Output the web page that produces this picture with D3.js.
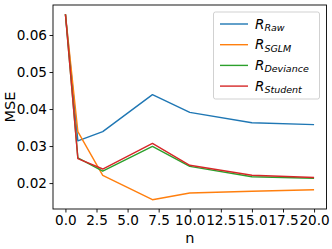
<!DOCTYPE html>
<html>
<head>
<meta charset="utf-8">
<script src="https://cdn.jsdelivr.net/npm/d3@7"></script>
<style>
  body { margin: 0; background: #fff; }
  svg { display: block; font-family: "DejaVu Sans", sans-serif; }
</style>
</head>
<body>
<div id="chart"></div>
<script>
// data
var nValues = [0, 1, 3, 7, 10, 15, 20];
var rawMse = [0.0656, 0.0314, 0.0339, 0.0439, 0.0391, 0.0363, 0.0358];
var sglmMse = [0.0656, 0.0339, 0.0221, 0.0155, 0.0173, 0.0178, 0.0182];
var devianceMse = [0.0656, 0.0268, 0.0232, 0.0299, 0.0245, 0.0217, 0.0213];
var studentMse = [0.0656, 0.0266, 0.0238, 0.0307, 0.0248, 0.0221, 0.0215];
var seriesNames = ["Raw", "SGLM", "Deviance", "Student"];
var xTicks = [0, 2.5, 5, 7.5, 10, 12.5, 15, 17.5, 20];
var yTicks = [0.02, 0.03, 0.04, 0.05, 0.06];

var colors = ["#1f77b4", "#ff7f0e", "#2ca02c", "#d62728"];
var allSeries = [rawMse, sglmMse, devianceMse, studentMse];

var width = 332, height = 249;
var plotLeft = 53, plotRight = 326.5, plotTop = 5, plotBottom = 209;

var svg = d3.select("#chart").append("svg")
    .attr("width", width)
    .attr("height", height);

// matplotlib style 5% margins
var xExt = d3.extent(nValues);
var xPad = (xExt[1] - xExt[0]) * 0.05;
var yExt = d3.extent(d3.merge(allSeries));
var yPad = (yExt[1] - yExt[0]) * 0.05;

var x = d3.scaleLinear().domain([xExt[0] - xPad, xExt[1] + xPad]).range([plotLeft, plotRight]);
var y = d3.scaleLinear().domain([yExt[0] - yPad, yExt[1] + yPad]).range([plotBottom, plotTop]);

var line = d3.line()
    .x(function(d, i) { return x(nValues[i]); })
    .y(function(d) { return y(d); });

svg.append("g").selectAll("path")
    .data(allSeries)
    .enter().append("path")
    .attr("d", line)
    .attr("fill", "none")
    .attr("stroke", function(d, i) { return colors[i]; })
    .attr("stroke-width", 1.4)
    .attr("stroke-linejoin", "round");

// axes
var xAxis = d3.axisBottom(x).tickValues(xTicks).tickFormat(d3.format(".1f")).tickSize(3.5).tickPadding(2.5);
var yAxis = d3.axisLeft(y).tickValues(yTicks).tickFormat(d3.format(".2f")).tickSize(3.5).tickPadding(2.5);

var gx = svg.append("g").attr("transform", "translate(0," + plotBottom + ")").call(xAxis);
var gy = svg.append("g").attr("transform", "translate(" + plotLeft + ",0)").call(yAxis);

[gx, gy].forEach(function(g) {
    g.select(".domain").remove();
    g.selectAll("line").attr("stroke", "#000").attr("stroke-width", 0.9);
    g.selectAll("text").attr("font-size", 13.6).attr("fill", "#000")
        .attr("font-family", "DejaVu Sans");
});

// frame
svg.append("rect")
    .attr("x", plotLeft)
    .attr("y", plotTop)
    .attr("width", plotRight - plotLeft)
    .attr("height", plotBottom - plotTop)
    .attr("fill", "none")
    .attr("stroke", "#000")
    .attr("stroke-width", 0.9);

// axis labels
svg.append("text")
    .text("n")
    .attr("x", (plotLeft + plotRight) / 2)
    .attr("y", 243)
    .attr("text-anchor", "middle")
    .attr("font-size", 14.5);

svg.append("text")
    .text("MSE")
    .attr("transform", "translate(15," + (plotTop + plotBottom) / 2 + ") rotate(-90)")
    .attr("text-anchor", "middle")
    .attr("font-size", 14.5);

// legend
var legend = svg.append("g");
legend.append("rect")
    .attr("x", 213.5)
    .attr("y", 12)
    .attr("width", 106)
    .attr("height", 87)
    .attr("rx", 2)
    .attr("fill", "#fff")
    .attr("fill-opacity", 0.8)
    .attr("stroke", "#ccc")
    .attr("stroke-width", 0.9);

var rows = legend.selectAll("g.row")
    .data(seriesNames)
    .enter().append("g")
    .attr("class", "row")
    .attr("transform", function(d, i) { return "translate(0," + (24 + i * 20.7) + ")"; });

rows.append("line")
    .attr("x1", 220)
    .attr("x2", 248)
    .attr("y1", 0)
    .attr("y2", 0)
    .attr("stroke", function(d, i) { return colors[i]; })
    .attr("stroke-width", 1.4);

var label = rows.append("text")
    .attr("x", 255)
    .attr("y", 4.5)
    .attr("font-style", "italic")
    .attr("font-size", 13.5);
label.append("tspan").text("R");
label.append("tspan")
    .text(function(d) { return d; })
    .attr("font-size", 9.5)
    .attr("dy", 2.5);
</script>
</body>
</html>
